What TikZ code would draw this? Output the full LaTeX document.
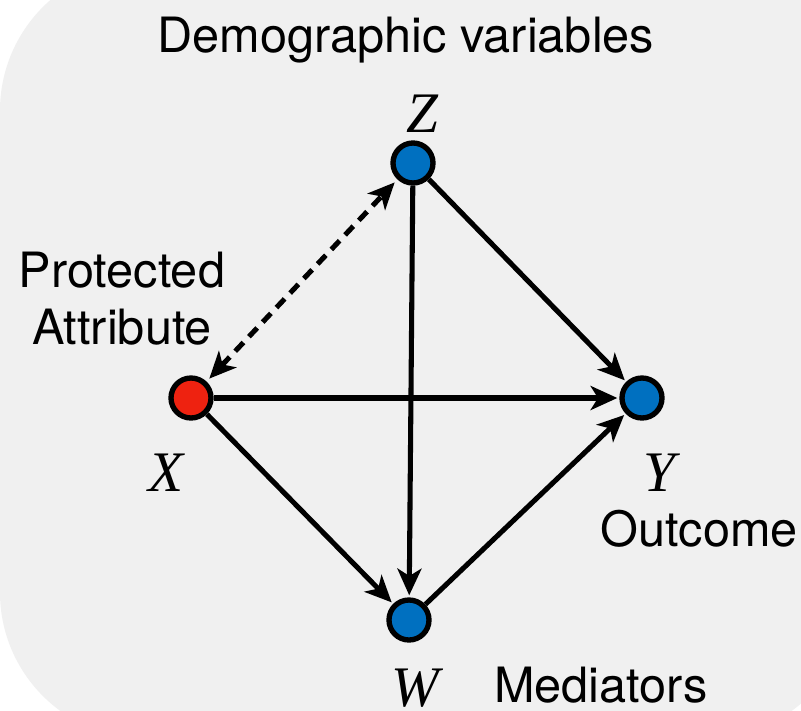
\documentclass[tikz,border=0pt]{standalone}
\usepackage{fontspec}
\setmainfont{TeX Gyre Heros}
\newfontfamily\varfont{Liberation Serif}
\usetikzlibrary{arrows.meta}
\definecolor{panelgray}{RGB}{240,240,240}
\definecolor{nodeblue}{RGB}{0,112,192}
\definecolor{nodered}{RGB}{238,34,16}
\tikzset{
  var/.style={circle, draw=black, line width=4pt, minimum size=30pt, inner sep=0pt},
  edge/.style={line width=3.8pt, -{Stealth[length=20pt, width=18pt, inset=5.5pt]}, shorten >=1.5pt},
  biedge/.style={line width=3.8pt, dash pattern=on 9pt off 6pt,
    {Stealth[length=20pt, width=18pt, inset=5.5pt]}-{Stealth[length=20pt, width=18pt, inset=5.5pt]},
    shorten >=3pt, shorten <=3pt},
  caption/.style={font=\fontsize{36.5}{44}\selectfont, inner sep=0pt, anchor=base},
  letter/.style={font=\fontsize{43}{50}\selectfont\varfont\itshape, inner sep=0pt, anchor=base}
}
\begin{document}
\begin{tikzpicture}[x=0.75pt, y=-0.75pt]
  % page frame
  \useasboundingbox (0,0) rectangle (801,711);
  \fill[white] (0,0) rectangle (801,711);
  % grey panel behind the graph
  \begin{scope}
    \clip (0,0) rectangle (801,711);
    \fill[panelgray, rounded corners=110pt] (0,-36) rectangle (852,739);
  \end{scope}

  % variables
  \node[var, fill=nodeblue] (Z) at (413,163) {};
  \node[var, fill=nodered]  (X) at (191,398) {};
  \node[var, fill=nodeblue] (Y) at (642,398) {};
  \node[var, fill=nodeblue] (W) at (409,620) {};

  % edges
  \draw[edge] (Z) -- (Y);
  \draw[edge] (Z) -- (W);
  \draw[edge] (X) -- (Y);
  \draw[edge] (X) -- (W);
  \draw[edge] (W) -- (Y);
  \draw[biedge] (X) -- (Z);

  % variable names
  \node[letter] (Zl) at (422,132) {Z};
  \node[letter] (Xl) at (166,491) {X};
  \node[letter] (Yl) at (659,491) {Y};
  \node[letter] (Wl) at (415,706) {W};

  % captions
  \node[caption] (demo) at (406,52) {Demographic variables};
  \node[caption] (prot) at (122,287) {Protected};
  \node[caption] (attr) at (122,344) {Attribute};
  \node[caption] (outc) at (699,546) {Outcome};
  \node[caption] (medi) at (601,702) {Mediators};
\end{tikzpicture}
\end{document}
